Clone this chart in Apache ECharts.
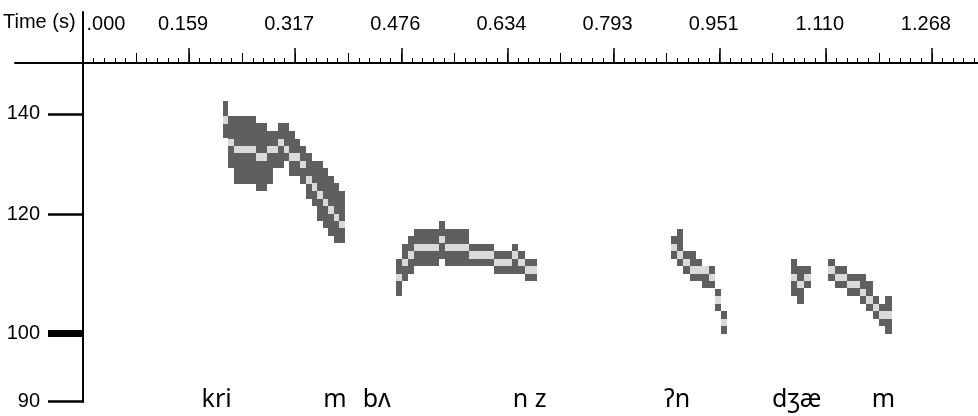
<!DOCTYPE html>
<html><head><meta charset="utf-8">
<script src="https://cdn.jsdelivr.net/npm/echarts@6/dist/echarts.min.js"></script>
<style>html,body{margin:0;padding:0;background:#fff}#c{width:978px;height:416px}</style>
</head><body><div id="c"></div>
<script>
// ---- data ----
const timeTickStep = 0.15853;          // seconds between labelled ticks
const timeAxisMax = 9 * timeTickStep;  // axis runs past the right edge
const pitchTicks = [90, 100, 120, 140];
const boldPitchTicks = [100];
const pitchMin = 89.95, pitchMax = 163.7;

// voiced segments: start / end time (s)
const segStart = [0.2087, 0.4677, 0.8781, 1.0574, 1.1135];
const segEnd   = [0.3913, 0.6779, 0.9627, 1.0873, 1.2083];

// per frame: top of band (Hz), pitch estimate (Hz), bottom of band (Hz)
const seg1Hi = [142.0,138.7,138.7,138.7,138.7,138.7,137.2,137.2,135.6,135.6,137.2,137.2,135.6,134.0,132.5,131.0,129.5,129.5,128.0,126.5,125.1,123.6];
const seg1F0 = [138.7,134.0,132.5,132.5,132.5,132.5,131.0,131.0,132.5,132.5,134.0,132.5,131.0,131.0,129.5,126.5,125.1,123.6,122.2,120.8,119.4,118.1];
const seg1Lo = [135.6,129.5,126.5,126.5,126.5,126.5,125.1,125.1,126.5,129.5,129.5,131.0,128.0,128.0,126.5,123.6,122.2,119.4,118.1,116.7,115.4,115.4];

const seg2Hi = [111.4,114.0,115.4,116.7,116.7,116.7,116.7,118.1,116.7,116.7,116.7,116.7,114.0,114.0,114.0,114.0,112.7,112.7,112.7,114.0,112.7,111.4,111.4];
const seg2F0 = [108.9,111.4,112.7,114.0,114.0,114.0,114.0,115.4,114.0,114.0,114.0,114.0,112.7,112.7,112.7,112.7,111.4,111.4,111.4,112.7,111.4,110.2,110.2];
const seg2Lo = [106.4,108.9,110.2,111.4,111.4,111.4,111.4,112.7,111.4,111.4,111.4,111.4,111.4,111.4,111.4,111.4,110.2,110.2,110.2,110.2,110.2,108.9,108.9];

const seg3Hi = [115.4,116.7,112.7,112.7,111.4,110.2,110.2,106.4,102.8];
const seg3F0 = [114.0,112.7,111.4,110.2,110.2,110.2,108.9,105.2,101.6];
const seg3Lo = [112.7,111.4,110.2,108.9,108.9,107.7,107.7,104.0,100.5];

const seg4Hi = [111.4,110.2,110.2];
const seg4F0 = [108.9,107.7,108.9];
const seg4Lo = [106.4,105.2,107.7];

const seg5Hi = [111.4,110.2,110.2,108.9,108.9,108.9,107.7,105.2,104.0,105.2];
const seg5F0 = [110.2,108.9,108.9,107.7,107.7,106.4,105.2,104.0,102.8,102.8];
const seg5Lo = [108.9,107.7,107.7,106.4,106.4,105.2,104.0,102.8,101.6,100.5];

// transcription labels
const words = ["kri", "m", "bʌ", "n z", "ʔn", "dʒæ", "m"];
const wordTimes = [0.1997, 0.3765, 0.4388, 0.6674, 0.8875, 1.0663, 1.1958];
const wordPitch = 90.3;

// ---- build ----
const segHi = [seg1Hi, seg2Hi, seg3Hi, seg4Hi, seg5Hi];
const segF0 = [seg1F0, seg2F0, seg3F0, seg4F0, seg5F0];
const segLo = [seg1Lo, seg2Lo, seg3Lo, seg4Lo, seg5Lo];
const cells = [];
for (let s = 0; s < segHi.length; s++) {
  const n = segHi[s].length, step = (segEnd[s] - segStart[s]) / n;
  for (let i = 0; i < n; i++) {
    cells.push([segStart[s] + i * step, segStart[s] + (i + 1) * step, segLo[s][i], segHi[s][i], segF0[s][i]]);
  }
}
const wordData = wordTimes.map((t, i) => [t, wordPitch, i]);

const HALF_ROW = Math.pow(2, 0.1 / 12);
const DARK = '#5f5f5f', LIGHT = '#dadada';
const AXIS_FONT = "'Liberation Sans', Arial, Helvetica, sans-serif";
const FS = 20;

function pixRect(p, q) {
  const x0 = Math.round(p[0]), x1 = Math.round(q[0]);
  const y0 = Math.round(p[1]), y1 = Math.round(q[1]);
  return {x: x0, y: y0, width: x1 - x0, height: y1 - y0};
}

const chart = echarts.init(document.getElementById('c'), null, {renderer: 'canvas'});
chart.setOption({
  animation: false,
  backgroundColor: '#ffffff',
  title: {
    text: 'Time (s)', left: 3, top: 12, padding: 0,
    textStyle: {fontSize: FS, fontWeight: 'normal', color: '#000', fontFamily: AXIS_FONT}
  },
  grid: [
    {left: 83, top: 12, width: 955, height: 390, outerBoundsMode: 'none', containLabel: false},
    {left: 15, top: 63, width: 68, height: 1, outerBoundsMode: 'none', containLabel: false}
  ],
  xAxis: [
    {
      gridIndex: 0, type: 'value', position: 'top', offset: -51,
      min: 0, max: timeAxisMax, interval: timeTickStep,
      axisLine: {show: true, onZero: false, lineStyle: {color: '#000', width: 2}},
      axisTick: {show: true, length: 15, lineStyle: {color: '#000', width: 1.5}},
      minorTick: {show: true, splitNumber: 10, length: 5, lineStyle: {color: '#000', width: 1}},
      splitLine: {show: false}, minorSplitLine: {show: false},
      axisLabel: {
        show: true, margin: 29, showMaxLabel: false, showMinLabel: true,
        color: '#000', fontSize: FS, fontFamily: AXIS_FONT,
        formatter: function (v) {
          if (Math.abs(v) < 1e-9) return '{a|.000}';
          return '{b|' + v.toFixed(3) + '}';
        },
        rich: {
          a: {fontSize: FS, fontFamily: AXIS_FONT, color: '#000', padding: [0, 0, 0, 46]},
          b: {fontSize: FS, fontFamily: AXIS_FONT, color: '#000', padding: [0, 12, 0, 0]}
        }
      }
    },
    {
      gridIndex: 0, type: 'value', position: 'top', offset: -51,
      min: 0, max: timeAxisMax, interval: timeTickStep / 2,
      axisLine: {show: false, onZero: false},
      axisTick: {show: true, length: 10, lineStyle: {color: '#000', width: 1}},
      axisLabel: {show: false}, splitLine: {show: false}
    },
    {
      gridIndex: 1, type: 'value', position: 'top', min: 0, max: 1,
      axisLine: {show: true, onZero: false, lineStyle: {color: '#000', width: 2}},
      axisTick: {show: false}, axisLabel: {show: false}, splitLine: {show: false}
    }
  ],
  yAxis: [
    {
      gridIndex: 0, type: 'log', logBase: 10, position: 'left', min: pitchMin, max: pitchMax,
      axisLine: {show: true, onZero: false, lineStyle: {color: '#000', width: 2}},
      axisTick: {show: true, customValues: pitchTicks, length: 35, lineStyle: {color: '#000', width: 2.5}},
      axisLabel: {
        show: true, customValues: pitchTicks, margin: 43, color: '#000', fontSize: FS, fontFamily: AXIS_FONT,
        formatter: function (v) { return String(Math.round(v)); }
      },
      splitLine: {show: false}, minorTick: {show: false}
    },
    {
      gridIndex: 0, type: 'log', logBase: 10, position: 'left', min: pitchMin, max: pitchMax,
      axisLine: {show: false, onZero: false},
      axisTick: {show: true, customValues: boldPitchTicks, length: 35, lineStyle: {color: '#000', width: 7}},
      axisLabel: {show: false}, splitLine: {show: false}
    },
    {gridIndex: 1, type: 'value', show: false, min: 0, max: 1}
  ],
  series: [
    {
      type: 'custom', xAxisIndex: 0, yAxisIndex: 0, silent: true,
      data: cells,
      encode: {x: [0, 1], y: [2, 3, 4]},
      renderItem: function (params, api) {
        const t0 = api.value(0), t1 = api.value(1), lo = api.value(2), hi = api.value(3), f0 = api.value(4);
        const a = api.coord([t0, hi * HALF_ROW]), b = api.coord([t1, lo / HALF_ROW]);
        const c = api.coord([t0, f0 * HALF_ROW]), d = api.coord([t1, f0 / HALF_ROW]);
        return {
          type: 'group',
          children: [
            {type: 'rect', shape: pixRect(a, b), style: {fill: DARK}},
            {type: 'rect', shape: pixRect(c, d), style: {fill: LIGHT}}
          ]
        };
      }
    },
    {
      type: 'custom', xAxisIndex: 0, yAxisIndex: 0, silent: true,
      data: wordData,
      encode: {x: 0, y: 1},
      renderItem: function (params, api) {
        const p = api.coord([api.value(0), api.value(1)]);
        return {
          type: 'text', x: p[0], y: p[1],
          style: {text: words[api.value(2)], fontSize: 25, fontFamily: "'Noto Sans', sans-serif",
                  fill: '#000', align: 'center', verticalAlign: 'middle'}
        };
      }
    }
  ]
});
</script>
</body></html>
